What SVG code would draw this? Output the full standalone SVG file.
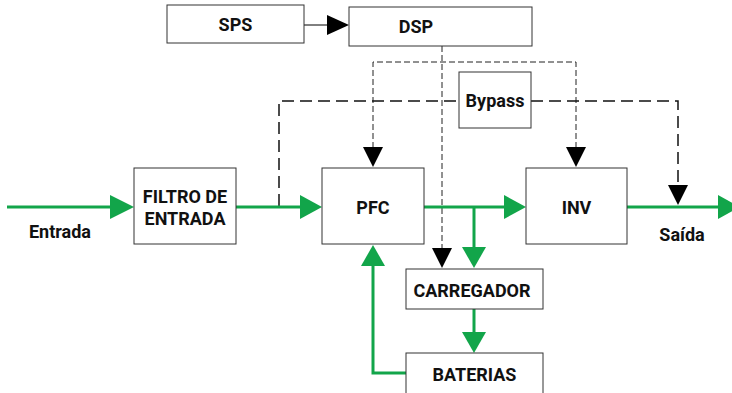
<svg xmlns="http://www.w3.org/2000/svg" width="732" height="393" viewBox="0 0 732 393">
<defs>
<style>
.box{fill:#fff;stroke:#333;stroke-width:1}
.t{font-family:Roboto,"Liberation Sans",sans-serif;font-weight:bold;font-size:18px;fill:#111;text-anchor:middle;dominant-baseline:central}
.g{stroke:#12a54a;stroke-width:3;fill:none}
.gh{fill:#12a54a}
.k{fill:#000}
.d1{stroke:#222;stroke-width:1;fill:none;stroke-dasharray:6 3}
.d2{stroke:#111;stroke-width:1.5;fill:none;stroke-dasharray:12 6}
</style>
</defs>
<g id="connectors">
<line x1="304" y1="25" x2="330" y2="25" stroke="#000" stroke-width="1"/>
<polygon class="k" points="327,15 349,25 327,35"/>
<path class="d1" d="M442,46 V248"/>
<path class="d1" d="M373,148 V62 H576 V148"/>
<polygon class="k" points="363,147 383,147 373,167"/>
<polygon class="k" points="566,147 586,147 576,167"/>
<polygon class="k" points="432,248 452,248 442,268"/>
<path class="d2" d="M279,206 V101 H459"/>
<path class="d2" d="M531,101 H678 V186"/>
<polygon class="k" points="668,185 688,185 678,205"/>
<path class="g" d="M7,207 H112"/>
<polygon class="gh" points="110,195 134,207 110,219"/>
<path class="g" d="M236,207 H304"/>
<polygon class="gh" points="300,195 322,207 300,219"/>
<path class="g" d="M424,207 H506"/>
<polygon class="gh" points="504,195 526,207 504,219"/>
<path class="g" d="M474,207 V249"/>
<polygon class="gh" points="462,247 486,247 474,268"/>
<path class="g" d="M627,207 H720"/>
<polygon class="gh" points="718,195 740,207 718,219"/>
<path class="g" d="M474,309 V334"/>
<polygon class="gh" points="462,332 486,332 474,353"/>
<path class="g" d="M406,373 H373 V264"/>
<polygon class="gh" points="361,266 385,266 373,245"/>
</g>
<g id="sps"><rect class="box" x="167" y="5" width="137" height="38"/><text class="t" x="235.5" y="24">SPS</text></g>
<g id="dsp"><rect class="box" x="349" y="7" width="183" height="39"/><text class="t" x="416" y="26.5">DSP</text></g>
<g id="bypass"><rect class="box" x="459" y="72" width="72" height="56"/><text class="t" x="495" y="100">Bypass</text></g>
<g id="filtro"><rect class="box" x="134" y="168" width="102" height="76"/><text class="t" x="185" y="196">FILTRO DE</text><text class="t" x="185" y="218">ENTRADA</text></g>
<g id="pfc"><rect class="box" x="322" y="168" width="102" height="76"/><text class="t" x="373" y="207">PFC</text></g>
<g id="inv"><rect class="box" x="526" y="168" width="101" height="76"/><text class="t" x="576.5" y="207">INV</text></g>
<g id="carregador"><rect class="box" x="406" y="269" width="137" height="40"/><text class="t" x="472" y="290">CARREGADOR</text></g>
<g id="baterias"><rect class="box" x="406" y="353" width="137" height="50"/><text class="t" x="474.5" y="374">BATERIAS</text></g>
<g id="labels"><text class="t" x="60" y="231">Entrada</text><text class="t" x="682" y="234">Saída</text></g>
</svg>
